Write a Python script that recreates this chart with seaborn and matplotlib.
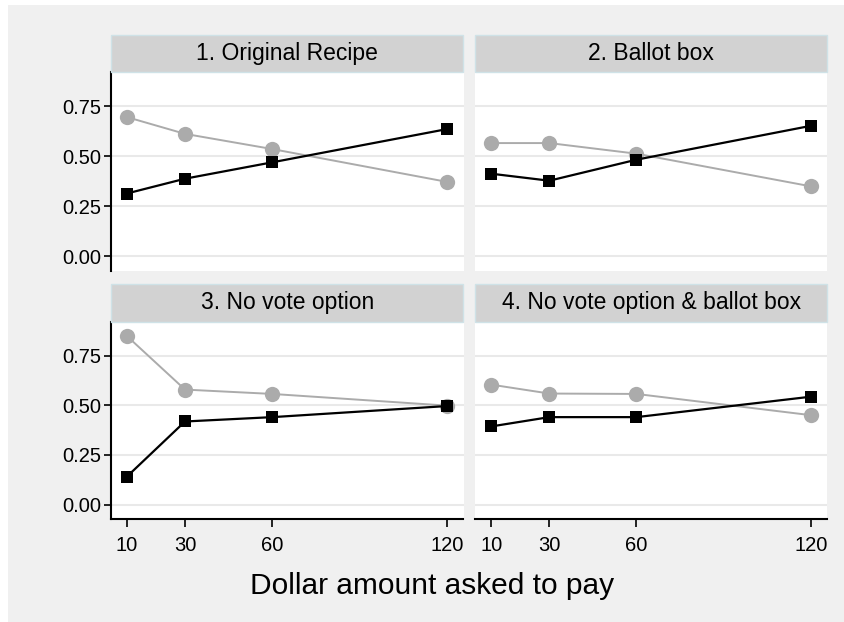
import matplotlib
matplotlib.use("Agg")
import matplotlib.pyplot as plt
from matplotlib.patches import Rectangle
import pandas as pd
import seaborn as sns

# ---- data -------------------------------------------------------------
amounts = [10, 30, 60, 120]
panels = ["1. Original Recipe", "2. Ballot box",
          "3. No vote option", "4. No vote option & ballot box"]

# share voting against (grey circles) and in favour (black squares)
against_1 = [0.696, 0.612, 0.536, 0.372]
favour_1 = [0.314, 0.388, 0.470, 0.636]
against_2 = [0.566, 0.566, 0.513, 0.350]
favour_2 = [0.413, 0.378, 0.483, 0.652]
against_3 = [0.851, 0.580, 0.558, 0.499]
favour_3 = [0.140, 0.419, 0.441, 0.497]
against_4 = [0.605, 0.560, 0.558, 0.451]
favour_4 = [0.394, 0.441, 0.441, 0.544]

y_ticks = [0.00, 0.25, 0.50, 0.75]
y_tick_labels = ["0.00", "0.25", "0.50", "0.75"]
x_label = "Dollar amount asked to pay"

against = [against_1, against_2, against_3, against_4]
favour = [favour_1, favour_2, favour_3, favour_4]

rows = []
for p, a_vals, f_vals in zip(panels, against, favour):
    for amt, a, f in zip(amounts, a_vals, f_vals):
        rows.append({"panel": p, "amount": amt, "series": "against", "share": a})
        rows.append({"panel": p, "amount": amt, "series": "favour", "share": f})
df = pd.DataFrame(rows)

# ---- layout -----------------------------------------------------------
sns.set_theme(style="white")
plt.rcParams["font.family"] = ["Liberation Sans", "DejaVu Sans"]

W, H = 845, 622
fig = plt.figure(figsize=(W / 100, H / 100), dpi=100)
fig.patch.set_facecolor("white")

BG = "#f0f0f0"
STRIP = "#d2d2d2"
STRIP_EDGE = "#cfe2e7"
GREY = "#ababab"
GRID = "#e9e9e9"

fig.patches.append(Rectangle((8 / W, 0), 1 - 8 / W, 1 - 5 / H,
                             transform=fig.transFigure, facecolor=BG,
                             edgecolor="none", zorder=-10))


def fbox(x0, y0, x1, y1):
    return [x0 / W, 1 - y1 / H, (x1 - x0) / W, (y1 - y0) / H]


cols = [(111, 463.5), (475.5, 827)]
rows_px = [((35, 72), (72, 271)), ((284, 322), (322, 519))]

for i, p in enumerate(panels):
    r, c = divmod(i, 2)
    x0, x1 = cols[c]
    (s0, s1), (p0, p1) = rows_px[r]

    # strip with panel title
    fig.patches.append(Rectangle((x0 / W, 1 - s1 / H), (x1 - x0) / W, (s1 - s0) / H,
                                 transform=fig.transFigure, facecolor=STRIP,
                                 edgecolor=STRIP_EDGE, linewidth=1.0, zorder=1))
    fig.text((x0 + x1) / 2 / W, 1 - (s0 + s1) / 2 / H, p, ha="center",
             va="center", fontsize=16.5, color="black", zorder=2)

    ax = fig.add_axes(fbox(x0, p0, x1, p1))
    ax.set_facecolor("white")
    sub = df[df["panel"] == p]

    sns.lineplot(data=sub[sub["series"] == "against"], x="amount", y="share",
                 color=GREY, marker="o", markersize=11, markeredgewidth=0,
                 linewidth=1.4, ax=ax, zorder=3)
    sns.lineplot(data=sub[sub["series"] == "favour"], x="amount", y="share",
                 color="black", marker="s", markersize=8, markeredgewidth=0,
                 linewidth=1.6, ax=ax, zorder=4)

    ax.set_xlim(4.6, 125.6)
    ax.set_ylim(-0.073, 0.921)
    ax.set_xlabel("")
    ax.set_ylabel("")
    for yv in y_ticks:
        ax.axhline(yv, color=GRID, linewidth=1.5, zorder=0)

    for s in ax.spines.values():
        s.set_visible(False)

    if c == 0:
        ax.spines["left"].set_visible(True)
        ax.spines["left"].set_color("black")
        ax.spines["left"].set_linewidth(1.5)
        ax.set_yticks(y_ticks)
        ax.set_yticklabels(y_tick_labels)
        ax.tick_params(axis="y", left=True, length=5, width=1.2, color="black",
                       labelsize=14.5, pad=2, labelcolor="black")
    else:
        ax.set_yticks([])

    if r == 1:
        ax.spines["bottom"].set_visible(True)
        ax.spines["bottom"].set_color("black")
        ax.spines["bottom"].set_linewidth(1.5)
        ax.set_xticks(amounts)
        ax.set_xticklabels([str(a) for a in amounts])
        ax.tick_params(axis="x", bottom=True, length=6, width=1.2, color="black",
                       labelsize=14.5, pad=6, labelcolor="black")
    else:
        ax.set_xticks([])

    ax.grid(False)
    if ax.get_legend() is not None:
        ax.get_legend().remove()

fig.text(432 / W, 1 - 586 / H, x_label, ha="center", va="center",
         fontsize=21.5, color="black")

fig.savefig("out.png", dpi=100, facecolor=fig.get_facecolor())
